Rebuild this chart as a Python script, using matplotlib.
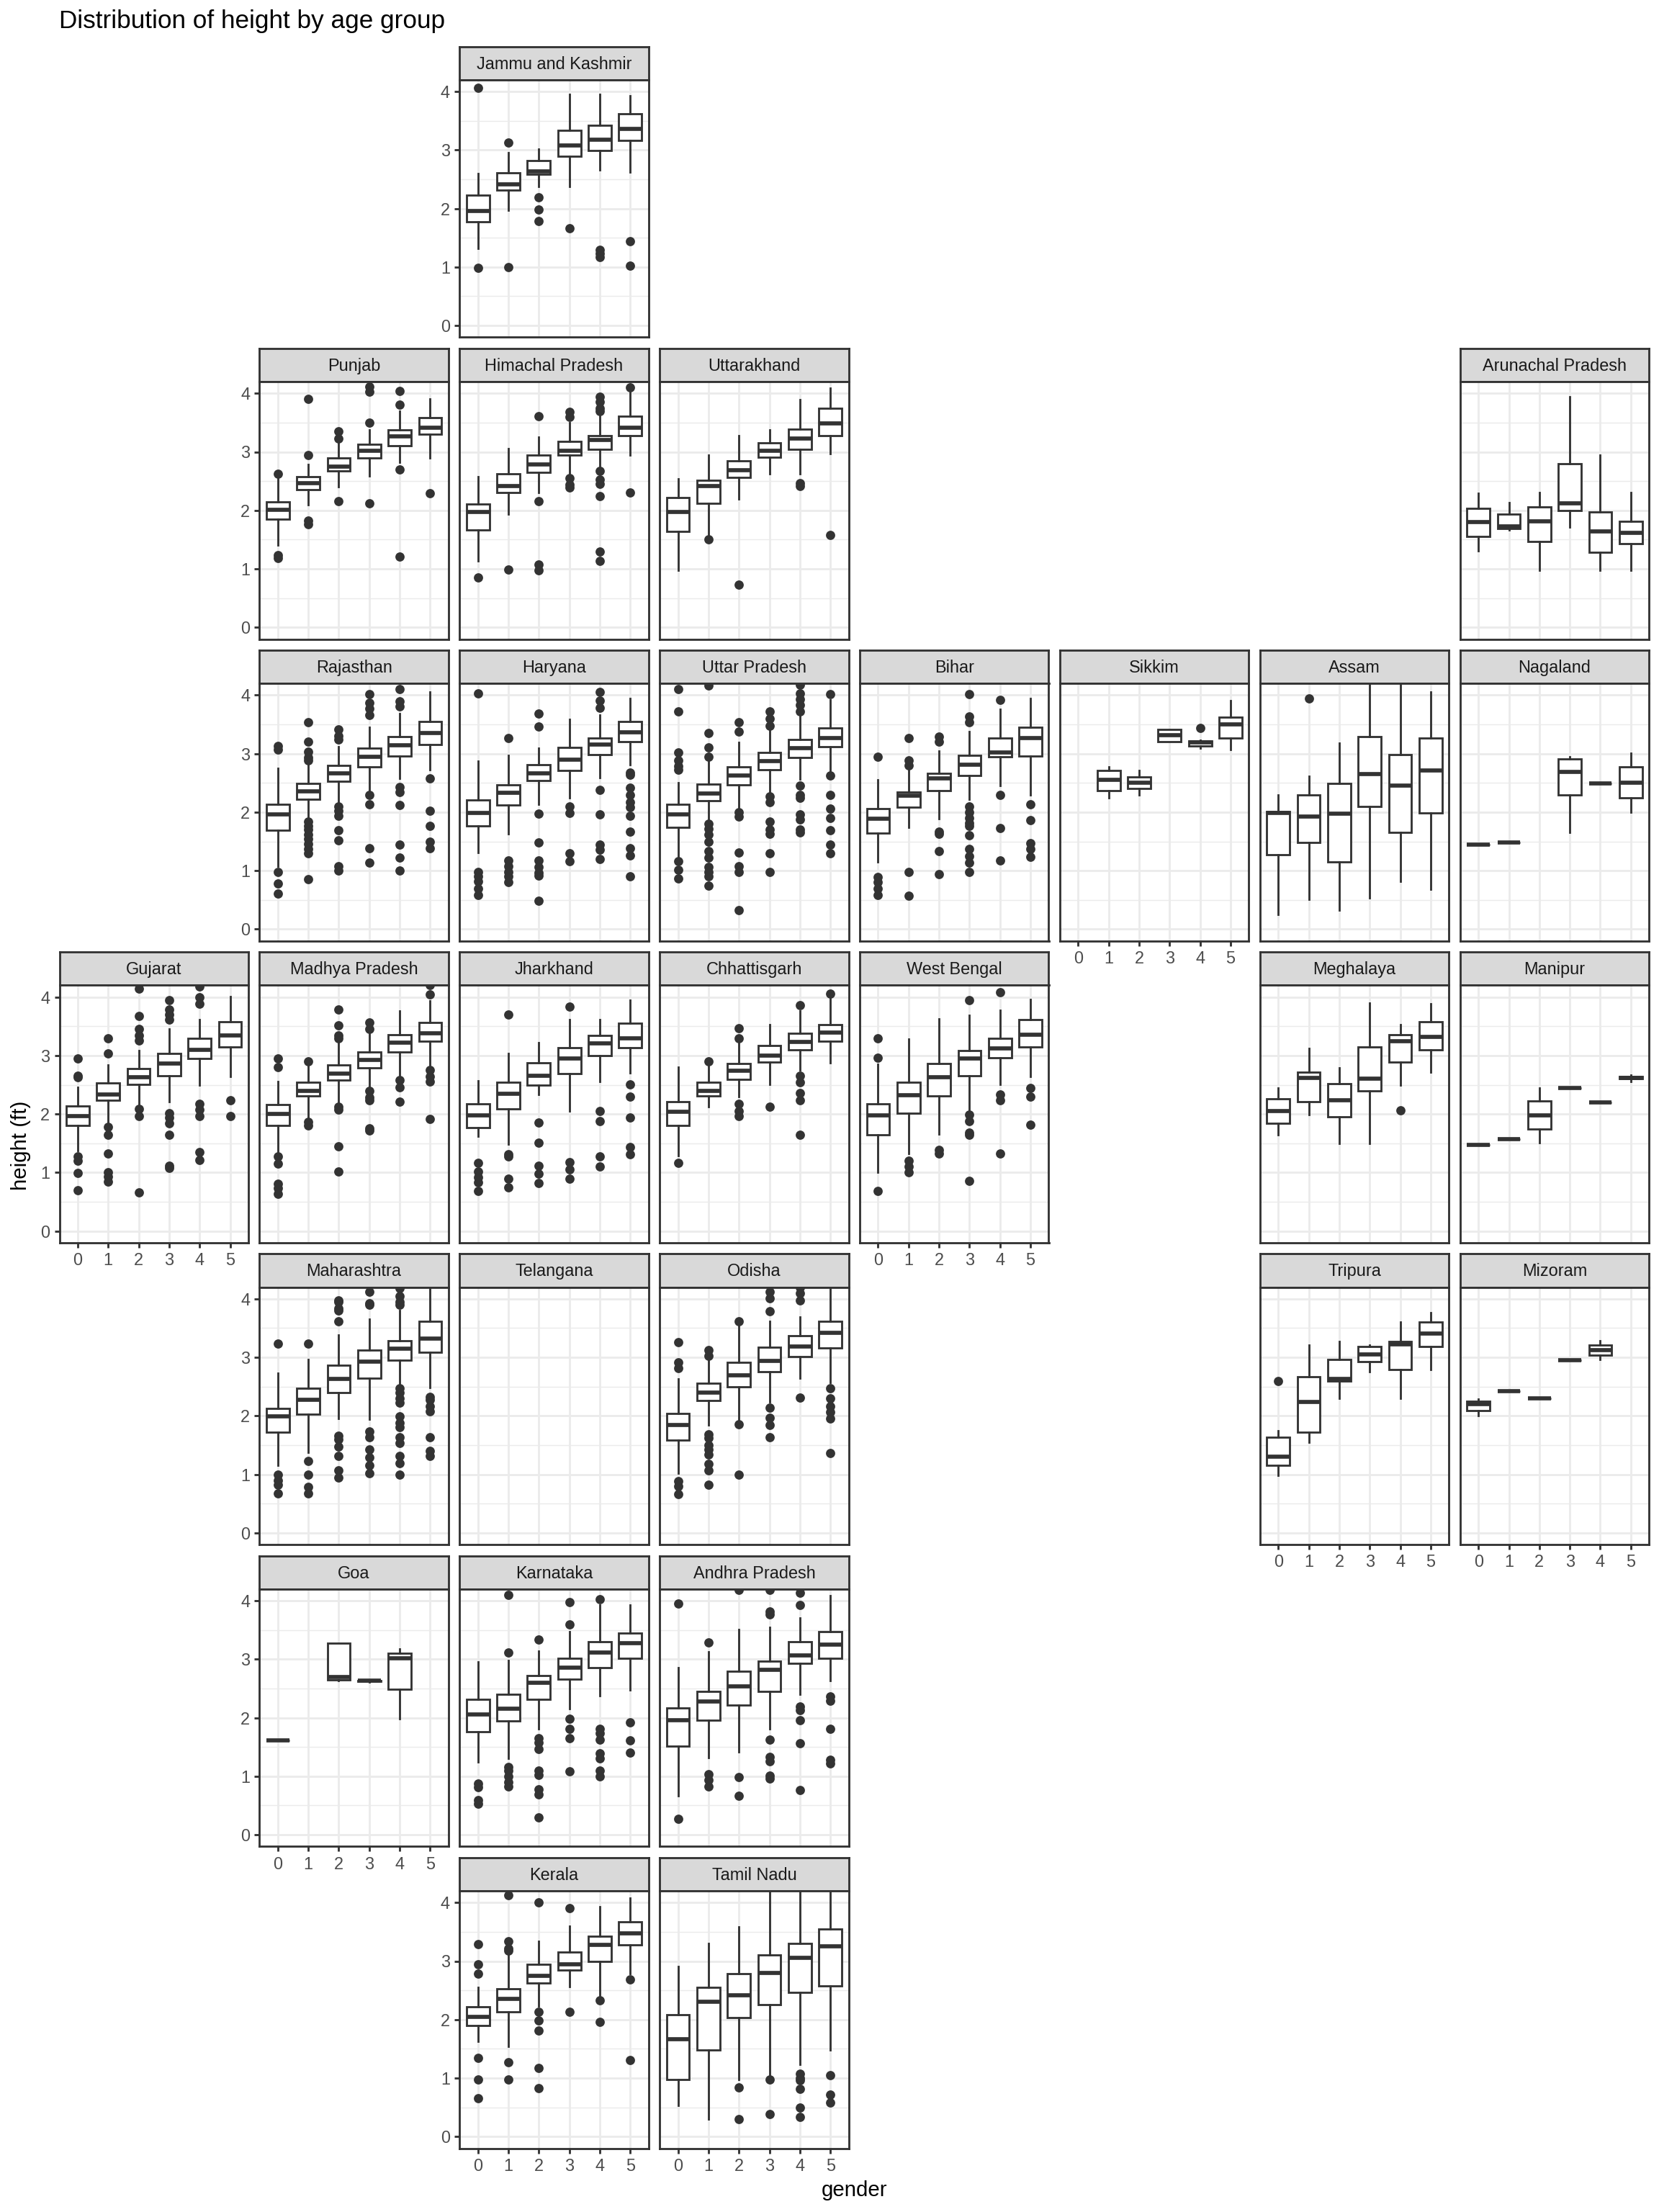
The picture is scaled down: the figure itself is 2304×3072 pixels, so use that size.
import matplotlib.pyplot as plt

# age groups on the x axis
ages = ["0", "1", "2", "3", "4", "5"]

# box stats per age group: [lower whisker, Q1, median, Q3, upper whisker], None = no data
jammu_kashmir = [[1.32, 1.77, 1.96, 2.23, 2.60], [1.97, 2.31, 2.41, 2.61, 2.95], [2.37, 2.58, 2.64, 2.82, 3.02],
                 [2.38, 2.89, 3.08, 3.34, 3.95], [2.66, 2.99, 3.18, 3.42, 3.95], [2.62, 3.16, 3.36, 3.62, 3.93]]
jammu_kashmir_out = [[4.06, 0.98], [3.13, 1.00], [2.19, 1.98, 1.79], [1.66], [1.29, 1.23, 1.17], [1.44, 1.02]]

punjab = [[1.41, 1.85, 2.01, 2.14, 2.54], [2.10, 2.35, 2.46, 2.57, 2.78], [2.40, 2.67, 2.75, 2.89, 3.17],
          [2.59, 2.89, 3.02, 3.13, 3.38], [2.82, 3.11, 3.27, 3.37, 3.70], [2.90, 3.30, 3.41, 3.59, 3.91]]
punjab_out = [[2.62, 1.24, 1.18], [3.91, 2.95, 1.83, 1.76], [3.35, 3.23, 2.16], [4.11, 4.03, 3.50, 2.12],
              [4.04, 3.81, 2.70, 1.21], [2.29]]

himachal = [[1.14, 1.67, 1.97, 2.11, 2.58], [1.94, 2.30, 2.42, 2.62, 3.06], [2.30, 2.65, 2.79, 2.95, 3.25],
            [2.59, 2.95, 3.02, 3.18, 3.50], [2.74, 3.04, 3.20, 3.28, 3.62], [2.95, 3.28, 3.41, 3.61, 4.02]]
himachal_out = [[0.85], [0.99], [3.61, 2.16, 1.07, 0.97], [3.68, 3.60, 2.55, 2.44, 2.39],
                [3.94, 3.85, 3.75, 3.70, 2.68, 2.53, 2.45, 2.24, 1.30, 1.13], [4.10, 2.30]]

uttarakhand = [[0.98, 1.64, 1.97, 2.22, 2.54], [1.59, 2.12, 2.42, 2.52, 2.94], [2.19, 2.56, 2.69, 2.85, 3.28],
               [2.63, 2.91, 3.02, 3.15, 3.38], [2.63, 3.04, 3.23, 3.39, 3.89], [2.97, 3.28, 3.49, 3.74, 4.09]]
uttarakhand_out = [[], [1.50], [0.73], [], [2.46, 2.41], [1.58]]

arunachal = [[1.31, 1.55, 1.80, 2.04, 2.29], [1.66, 1.69, 1.73, 1.93, 2.13], [0.98, 1.47, 1.81, 2.06, 2.30],
             [1.72, 2.00, 2.12, 2.80, 3.94], [0.98, 1.28, 1.64, 1.97, 2.95], [0.98, 1.43, 1.61, 1.81, 2.30]]
arunachal_out = [[], [], [], [], [], []]

rajasthan = [[1.08, 1.69, 1.96, 2.13, 2.75], [1.92, 2.22, 2.36, 2.49, 2.86], [2.17, 2.53, 2.66, 2.80, 3.12],
             [2.35, 2.77, 2.95, 3.10, 3.45], [2.58, 2.96, 3.14, 3.29, 3.69], [2.72, 3.16, 3.35, 3.55, 4.05]]
rajasthan_out = [[3.13, 3.07, 0.98, 0.78, 0.61],
                 [3.54, 3.21, 3.03, 2.94, 2.88, 1.84, 1.76, 1.70, 1.62, 1.55, 1.46, 1.37, 1.30, 0.85],
                 [3.41, 3.30, 3.24, 2.10, 2.03, 1.94, 1.69, 1.52, 1.08, 1.00],
                 [4.02, 3.87, 3.77, 3.66, 2.29, 2.13, 1.39, 1.14],
                 [4.11, 3.89, 3.81, 2.43, 2.35, 2.12, 1.44, 1.22, 1.00],
                 [2.58, 2.02, 1.77, 1.49, 1.39]]

haryana = [[1.31, 1.76, 1.99, 2.21, 2.87], [1.63, 2.12, 2.33, 2.47, 2.97], [2.13, 2.54, 2.67, 2.81, 3.10],
           [2.25, 2.71, 2.90, 3.11, 3.59], [2.59, 2.99, 3.16, 3.27, 3.66], [2.81, 3.20, 3.36, 3.55, 3.94]]
haryana_out = [[4.03, 0.98, 0.90, 0.82, 0.70, 0.59], [3.27, 1.18, 1.08, 0.98, 0.90, 0.80],
               [3.68, 3.47, 1.97, 1.48, 1.18, 1.07, 0.96, 0.92, 0.48], [2.10, 1.99, 1.30, 1.16],
               [4.05, 3.91, 3.79, 2.38, 1.96, 1.45, 1.36, 1.20],
               [2.68, 2.64, 2.42, 2.30, 2.17, 2.08, 1.94, 1.67, 1.39, 1.26, 0.91]]

uttar_pradesh = [[1.22, 1.74, 1.96, 2.13, 2.51], [1.83, 2.20, 2.32, 2.48, 2.86], [2.03, 2.47, 2.63, 2.77, 3.19],
                 [2.31, 2.73, 2.87, 3.02, 3.42], [2.56, 2.93, 3.10, 3.24, 3.68], [2.68, 3.12, 3.27, 3.44, 3.92]]
uttar_pradesh_out = [[4.11, 3.72, 3.02, 2.89, 2.79, 2.72, 1.16, 1.02, 0.87],
                     [4.16, 3.35, 3.11, 2.95, 1.80, 1.72, 1.62, 1.49, 1.33, 1.22, 1.06, 0.98, 0.90, 0.75],
                     [3.54, 3.38, 2.00, 1.92, 1.31, 1.08, 0.98, 0.33],
                     [3.72, 3.60, 3.48, 2.27, 2.17, 1.84, 1.71, 1.63, 1.30, 0.98],
                     [4.18, 4.03, 3.93, 3.83, 3.72, 2.45, 2.30, 2.25, 1.96, 1.88, 1.71, 1.65],
                     [4.02, 2.63, 2.29, 2.06, 1.90, 1.69, 1.45, 1.30]]

bihar = [[1.15, 1.64, 1.89, 2.06, 2.55], [1.74, 2.08, 2.28, 2.35, 2.73], [1.89, 2.37, 2.58, 2.67, 3.04],
         [2.22, 2.63, 2.81, 2.97, 3.38], [2.45, 2.95, 3.02, 3.27, 3.76], [2.29, 2.96, 3.27, 3.45, 3.95]]
bihar_out = [[2.95, 0.89, 0.80, 0.70, 0.59], [3.27, 2.88, 2.80, 0.98, 0.57], [3.29, 3.21, 1.67, 1.63, 1.33, 0.94],
             [4.02, 3.64, 3.54, 2.10, 2.00, 1.90, 1.82, 1.76, 1.61, 1.37, 1.25, 1.14, 0.98],
             [3.92, 2.29, 1.73, 1.17], [2.13, 1.87, 1.47, 1.37, 1.24]]

sikkim = [None, [2.25, 2.37, 2.55, 2.71, 2.78], [2.30, 2.40, 2.51, 2.60, 2.71],
          [3.20, 3.21, 3.32, 3.41, 3.42], [3.10, 3.13, 3.19, 3.22, 3.23], [3.07, 3.27, 3.50, 3.62, 3.91]]
sikkim_out = [[], [], [], [], [3.44], []]

assam = [[0.25, 1.27, 1.99, 2.01, 2.30], [0.51, 1.48, 1.93, 2.30, 2.62], [0.33, 1.15, 1.98, 2.49, 3.18],
         [0.53, 2.10, 2.65, 3.29, 4.30], [0.82, 1.65, 2.46, 2.98, 4.30], [0.68, 1.99, 2.71, 3.27, 4.05]]
assam_out = [[], [3.95], [], [], [], []]

nagaland = [[1.45, 1.45, 1.45, 1.45, 1.45], [1.48, 1.48, 1.48, 1.48, 1.48], None,
            [1.65, 2.29, 2.69, 2.91, 2.95], [2.49, 2.49, 2.49, 2.49, 2.49], [2.00, 2.25, 2.50, 2.77, 3.01]]
nagaland_out = [[], [], [], [], [], []]

gujarat = [[1.38, 1.80, 1.97, 2.14, 2.46], [1.84, 2.23, 2.34, 2.53, 2.84], [2.13, 2.51, 2.63, 2.78, 3.08],
           [2.21, 2.66, 2.86, 3.03, 3.45], [2.50, 2.95, 3.10, 3.29, 3.61], [2.64, 3.15, 3.34, 3.58, 4.01]]
gujarat_out = [[2.95, 2.66, 2.63, 1.27, 1.20, 0.99, 0.70], [3.29, 3.04, 1.78, 1.64, 1.33, 1.00, 0.93, 0.85],
               [4.14, 3.68, 3.45, 3.34, 3.26, 2.09, 1.97, 0.66],
               [3.95, 3.79, 3.70, 3.61, 2.01, 1.94, 1.84, 1.64, 1.12, 1.08],
               [4.18, 4.00, 3.88, 2.17, 2.07, 1.97, 1.35, 1.22], [2.24, 1.97]]

madhya_pradesh = [[1.35, 1.81, 2.00, 2.16, 2.56], [1.92, 2.31, 2.40, 2.54, 2.82], [2.17, 2.58, 2.69, 2.84, 3.21],
                  [2.44, 2.79, 2.92, 3.06, 3.40], [2.64, 3.06, 3.22, 3.36, 3.76], [2.84, 3.25, 3.38, 3.56, 3.93]]
madhya_pradesh_out = [[2.95, 2.80, 1.27, 1.15, 0.81, 0.74, 0.64], [2.90, 1.87, 1.80],
                      [3.79, 3.52, 3.34, 3.29, 2.13, 2.07, 1.45, 1.02],
                      [3.57, 3.45, 2.40, 2.29, 2.23, 1.76, 1.72], [2.58, 2.46, 2.21],
                      [4.21, 4.04, 2.75, 2.64, 2.56, 1.92]]

jharkhand = [[1.62, 1.77, 1.98, 2.17, 2.57], [1.48, 2.09, 2.35, 2.54, 3.03], [2.33, 2.49, 2.66, 2.88, 3.22],
             [2.05, 2.69, 2.95, 3.13, 3.61], [2.55, 3.00, 3.21, 3.34, 3.61], [2.70, 3.14, 3.29, 3.55, 3.95]]
jharkhand_out = [[1.16, 1.02, 0.92, 0.83, 0.69], [3.70, 1.31, 1.27, 0.90, 0.75], [1.85, 1.51, 1.12, 0.98, 0.82],
                 [3.83, 1.18, 1.06, 0.90], [2.05, 1.88, 1.27, 1.10], [2.51, 2.30, 1.94, 1.43, 1.31]]

chhattisgarh = [[1.29, 1.80, 2.04, 2.21, 2.80], [2.12, 2.31, 2.40, 2.54, 2.82], [2.30, 2.59, 2.74, 2.86, 3.26],
                [2.51, 2.89, 3.00, 3.17, 3.53], [2.75, 3.10, 3.23, 3.38, 3.76], [2.88, 3.24, 3.39, 3.53, 3.99]]
chhattisgarh_out = [[1.16], [2.90], [3.47, 3.29, 2.17, 2.05, 1.97], [2.12],
                    [3.86, 2.66, 2.54, 2.36, 2.24, 1.64], [4.06]]

west_bengal = [[1.00, 1.64, 1.98, 2.17, 2.85], [1.32, 2.01, 2.32, 2.54, 3.28], [1.66, 2.31, 2.63, 2.86, 3.63],
               [2.05, 2.66, 2.95, 3.08, 3.69], [2.51, 2.96, 3.12, 3.30, 3.77], [2.64, 3.15, 3.35, 3.62, 3.96]]
west_bengal_out = [[3.29, 2.96, 0.68], [1.20, 1.10, 1.00], [1.39, 1.33], [3.95, 1.99, 1.88, 1.68, 1.64, 0.86],
                   [4.08, 2.34, 2.23, 1.33], [2.44, 2.30, 1.82]]

meghalaya = [[1.65, 1.84, 2.05, 2.26, 2.45], [1.99, 2.21, 2.62, 2.71, 3.12], [1.50, 1.95, 2.23, 2.52, 2.79],
             [1.50, 2.39, 2.61, 3.15, 3.90], [2.50, 2.89, 3.24, 3.35, 3.53], [2.71, 3.10, 3.32, 3.58, 3.89]]
meghalaya_out = [[], [], [], [], [2.06], []]

manipur = [[1.47, 1.47, 1.47, 1.47, 1.47], [1.57, 1.57, 1.57, 1.57, 1.57], [1.51, 1.74, 1.98, 2.22, 2.45],
           [2.45, 2.45, 2.45, 2.45, 2.45], [2.20, 2.20, 2.20, 2.20, 2.20], [2.56, 2.61, 2.62, 2.64, 2.67]]
manipur_out = [[], [], [], [], [], []]

maharashtra = [[1.15, 1.72, 1.99, 2.13, 2.73], [1.38, 2.03, 2.27, 2.47, 2.96], [1.96, 2.40, 2.63, 2.86, 3.38],
               [1.94, 2.64, 2.93, 3.12, 3.65], [2.55, 2.95, 3.15, 3.28, 3.80], [2.48, 3.09, 3.32, 3.62, 4.30]]
maharashtra_out = [[3.23, 0.99, 0.90, 0.82, 0.68], [3.23, 1.23, 0.99, 0.78, 0.68],
                   [3.97, 3.95, 3.84, 3.80, 3.62, 1.66, 1.60, 1.48, 1.32, 1.07, 0.95],
                   [4.12, 3.93, 3.90, 1.73, 1.64, 1.42, 1.29, 1.15, 1.02],
                   [4.18, 4.05, 3.95, 3.90, 2.47, 2.40, 2.30, 2.22, 1.99, 1.88, 1.81, 1.64, 1.54, 1.32, 1.19, 0.99],
                   [2.32, 2.28, 2.16, 2.08, 1.64, 1.40, 1.32]]

telangana = [None, None, None, None, None, None]
telangana_out = [[], [], [], [], [], []]

odisha = [[1.02, 1.58, 1.84, 2.04, 2.63], [1.84, 2.26, 2.40, 2.56, 2.99], [1.92, 2.50, 2.69, 2.92, 3.54],
          [2.24, 2.76, 2.94, 3.17, 3.62], [2.64, 3.01, 3.19, 3.37, 3.69], [2.57, 3.16, 3.42, 3.62, 4.30]]
odisha_out = [[3.26, 2.91, 2.82, 0.89, 0.80, 0.66],
              [3.13, 3.02, 1.69, 1.62, 1.50, 1.42, 1.34, 1.18, 1.07, 0.82],
              [3.62, 1.86, 1.00], [4.12, 4.01, 3.79, 2.14, 1.97, 1.85, 1.64], [4.20, 4.10, 3.97, 2.31],
              [2.47, 2.30, 2.16, 2.06, 1.95, 1.37]]

tripura = [[0.98, 1.15, 1.30, 1.64, 1.75], [1.55, 1.72, 2.24, 2.67, 3.21], [2.30, 2.59, 2.63, 2.97, 3.27],
           [2.76, 2.93, 3.05, 3.18, 3.21], [2.30, 2.79, 3.22, 3.27, 3.61], [2.79, 3.19, 3.41, 3.61, 3.76]]
tripura_out = [[2.59], [], [], [], [], []]

mizoram = [[2.01, 2.09, 2.20, 2.25, 2.29], [2.42, 2.42, 2.42, 2.42, 2.42], [2.30, 2.30, 2.30, 2.30, 2.30],
           [2.95, 2.95, 2.95, 2.95, 2.95], [2.96, 3.04, 3.13, 3.21, 3.29], None]
mizoram_out = [[], [], [], [], [], []]

goa = [[1.61, 1.61, 1.61, 1.61, 1.61], None, [2.64, 2.65, 2.69, 3.27, 3.27],
       [2.61, 2.62, 2.63, 2.64, 2.65], [1.98, 2.49, 3.01, 3.10, 3.18], None]
goa_out = [[], [], [], [], [], []]

karnataka = [[1.24, 1.76, 2.05, 2.31, 2.95], [1.31, 1.94, 2.16, 2.40, 2.98], [1.81, 2.31, 2.60, 2.72, 3.14],
             [2.15, 2.66, 2.85, 3.02, 3.47], [2.38, 2.86, 3.12, 3.30, 3.93], [2.47, 3.02, 3.28, 3.45, 3.93]]
karnataka_out = [[0.87, 0.81, 0.59, 0.53], [4.10, 3.11, 1.16, 1.10, 1.00, 0.90, 0.83],
                 [3.34, 1.65, 1.57, 1.47, 1.10, 1.02, 0.77, 0.69, 0.29], [3.97, 3.60, 1.98, 1.81, 1.65, 1.08],
                 [4.03, 1.81, 1.73, 1.63, 1.39, 1.30, 1.09, 1.00], [1.92, 1.61, 1.40]]

andhra = [[0.67, 1.52, 1.96, 2.17, 2.85], [1.32, 1.96, 2.28, 2.45, 3.13], [1.42, 2.21, 2.54, 2.79, 3.51],
          [1.81, 2.45, 2.82, 2.97, 3.55], [2.40, 2.93, 3.06, 3.30, 3.70], [2.63, 3.01, 3.25, 3.47, 4.09]]
andhra_out = [[3.95, 0.27], [3.29, 1.04, 0.94, 0.82], [4.18, 0.99, 0.66],
              [4.18, 3.81, 3.77, 1.63, 1.33, 1.26, 1.01, 0.96], [4.14, 3.93, 2.19, 2.13, 1.96, 1.56, 0.76],
              [2.36, 2.29, 1.81, 1.28, 1.22]]

kerala = [[1.63, 1.90, 2.05, 2.22, 2.55], [1.54, 2.13, 2.36, 2.53, 3.11], [2.23, 2.62, 2.75, 2.95, 3.34],
          [2.56, 2.85, 2.95, 3.16, 3.60], [2.42, 3.00, 3.28, 3.43, 3.93], [2.79, 3.28, 3.47, 3.67, 4.08]]
kerala_out = [[3.29, 2.95, 2.79, 1.34, 0.98, 0.66], [4.13, 3.34, 3.22, 3.18, 1.27, 0.98],
              [4.00, 2.13, 1.98, 1.81, 1.17, 0.83], [3.90, 2.13], [2.33, 1.96], [2.69, 1.31]]

tamil_nadu = [[0.53, 0.98, 1.67, 2.08, 2.91], [0.30, 1.48, 2.30, 2.55, 3.30], [0.98, 2.03, 2.42, 2.78, 3.59],
              [1.02, 2.26, 2.80, 3.11, 4.30], [1.24, 2.46, 3.05, 3.30, 4.30], [1.48, 2.58, 3.25, 3.55, 4.30]]
tamil_nadu_out = [[], [], [0.84, 0.30], [0.98, 0.39], [1.07, 1.00, 0.96, 0.82, 0.49, 0.33], [1.05, 0.72, 0.58]]

# geofacet grid: (state, row, col, stats, outliers)
grid = [
    ("Jammu and Kashmir", 0, 2, jammu_kashmir, jammu_kashmir_out),
    ("Punjab", 1, 1, punjab, punjab_out),
    ("Himachal Pradesh", 1, 2, himachal, himachal_out),
    ("Uttarakhand", 1, 3, uttarakhand, uttarakhand_out),
    ("Arunachal Pradesh", 1, 7, arunachal, arunachal_out),
    ("Rajasthan", 2, 1, rajasthan, rajasthan_out),
    ("Haryana", 2, 2, haryana, haryana_out),
    ("Uttar Pradesh", 2, 3, uttar_pradesh, uttar_pradesh_out),
    ("Bihar", 2, 4, bihar, bihar_out),
    ("Sikkim", 2, 5, sikkim, sikkim_out),
    ("Assam", 2, 6, assam, assam_out),
    ("Nagaland", 2, 7, nagaland, nagaland_out),
    ("Gujarat", 3, 0, gujarat, gujarat_out),
    ("Madhya Pradesh", 3, 1, madhya_pradesh, madhya_pradesh_out),
    ("Jharkhand", 3, 2, jharkhand, jharkhand_out),
    ("Chhattisgarh", 3, 3, chhattisgarh, chhattisgarh_out),
    ("West Bengal", 3, 4, west_bengal, west_bengal_out),
    ("Meghalaya", 3, 6, meghalaya, meghalaya_out),
    ("Manipur", 3, 7, manipur, manipur_out),
    ("Maharashtra", 4, 1, maharashtra, maharashtra_out),
    ("Telangana", 4, 2, telangana, telangana_out),
    ("Odisha", 4, 3, odisha, odisha_out),
    ("Tripura", 4, 6, tripura, tripura_out),
    ("Mizoram", 4, 7, mizoram, mizoram_out),
    ("Goa", 5, 1, goa, goa_out),
    ("Karnataka", 5, 2, karnataka, karnataka_out),
    ("Andhra Pradesh", 5, 3, andhra, andhra_out),
    ("Kerala", 6, 2, kerala, kerala_out),
    ("Tamil Nadu", 6, 3, tamil_nadu, tamil_nadu_out),
]

plt.rcParams["font.family"] = ["Liberation Sans", "DejaVu Sans"]

W, H = 2304, 3072
fig = plt.figure(figsize=(12, 16), dpi=192)

# panel geometry in pixels
x0, dx, pw = 82.5, 277.9, 262.4
y0, dy, sh, ph = 64.5, 419.2, 46.3, 357.5
dark = "#333333"
lw = 1.07

occupied = {(r, c) for _, r, c, _, _ in grid}
row_first = {}
for _, r, c, _, _ in grid:
    row_first[r] = min(row_first.get(r, 99), c)

for name, r, c, stats, out in grid:
    left = x0 + c * dx
    top = y0 + r * dy

    # strip
    sax = fig.add_axes([left / W, 1 - (top + sh) / H, pw / W, sh / H])
    sax.set_facecolor("#D9D9D9")
    sax.set_xticks([])
    sax.set_yticks([])
    for sp in sax.spines.values():
        sp.set_color(dark)
        sp.set_linewidth(lw)
    sax.text(0.5, 0.47, name, ha="center", va="center", fontsize=8.8, color="#1A1A1A",
             transform=sax.transAxes)

    ax = fig.add_axes([left / W, 1 - (top + sh + ph) / H, pw / W, ph / H])
    ax.set_xlim(-0.6, 5.6)
    ax.set_ylim(-0.2, 4.2)
    ax.set_xticks(range(len(ages)))
    ax.set_xticklabels(ages)
    ax.set_yticks([0, 1, 2, 3, 4])
    ax.set_yticks([0.5, 1.5, 2.5, 3.5], minor=True)
    ax.set_axisbelow(True)
    ax.grid(which="major", color="#EBEBEB", linewidth=lw)
    ax.grid(which="minor", color="#EBEBEB", linewidth=lw / 2)
    for sp in ax.spines.values():
        sp.set_color(dark)
        sp.set_linewidth(lw)

    bstats, pos = [], []
    for i, s in enumerate(stats):
        if s is None:
            continue
        bstats.append(dict(whislo=s[0], q1=s[1], med=s[2], q3=s[3], whishi=s[4], fliers=out[i]))
        pos.append(i)
    if bstats:
        ax.bxp(bstats, positions=pos, widths=0.75, patch_artist=True, showcaps=False,
               manage_ticks=False,
               boxprops=dict(facecolor="white", edgecolor=dark, linewidth=lw),
               whiskerprops=dict(color=dark, linewidth=lw),
               medianprops=dict(color=dark, linewidth=2.13, solid_capstyle="butt"),
               flierprops=dict(marker="o", markerfacecolor=dark, markeredgecolor=dark,
                               markersize=3.8, linestyle="none"))

    ax.tick_params(which="both", length=0, labelleft=False, labelbottom=False)
    if c == row_first[r]:
        ax.tick_params(axis="y", which="major", length=2.75, width=lw, color=dark, pad=2.2,
                       labelleft=True, labelsize=8.8, labelcolor="#4D4D4D")
    if (r + 1, c) not in occupied:
        ax.tick_params(axis="x", which="major", length=2.75, width=lw, color=dark, pad=2.2,
                       labelbottom=True, labelsize=8.8, labelcolor="#4D4D4D")

fig.text(x0 / W, 1 - 30 / H, "Distribution of height by age group", fontsize=13.2,
         ha="left", va="center")
fig.text(29 / W, 1 - 1591 / H, "height (ft)", fontsize=11, rotation=90, ha="center", va="center")
fig.text(1186 / W, 1 - 3042 / H, "gender", fontsize=11, ha="center", va="center")

fig.savefig("out.png", dpi=192)
